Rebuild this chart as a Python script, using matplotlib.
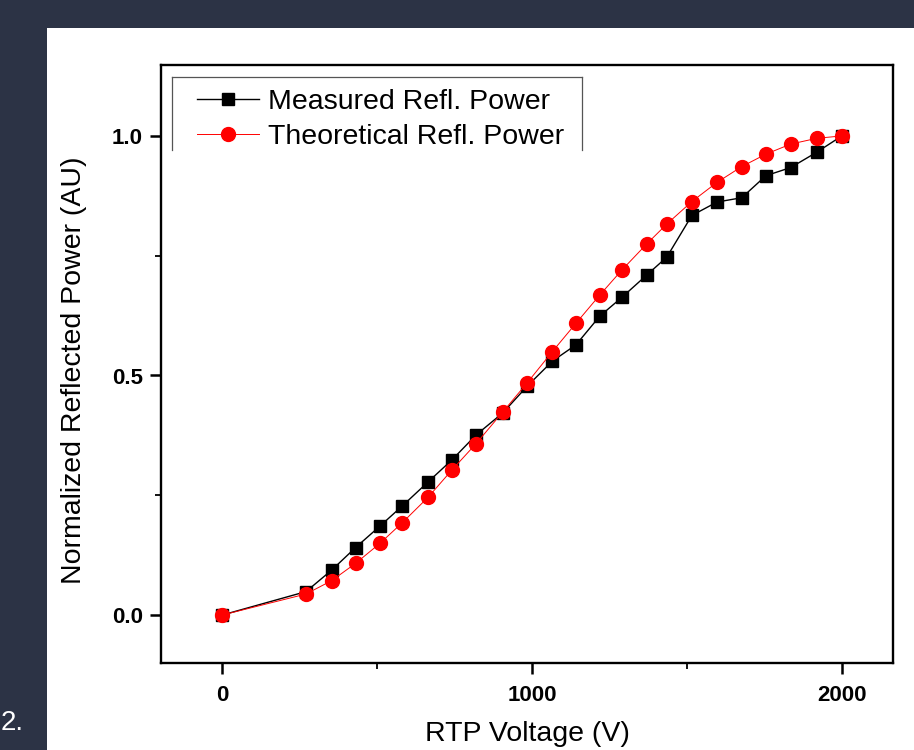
import matplotlib
matplotlib.use("Agg")
import matplotlib.pyplot as plt
from matplotlib.patches import Rectangle
from matplotlib.lines import Line2D
from matplotlib.ticker import MultipleLocator

plt.rcParams['font.family'] = ['Liberation Sans', 'DejaVu Sans']

# data
voltage = [0, 271, 354, 431, 510, 582, 665, 742, 820, 906, 985, 1066,
           1142, 1219, 1290, 1371, 1435, 1516, 1597, 1677, 1755, 1835, 1919, 2000]
measured = [0.0, 0.049, 0.094, 0.141, 0.186, 0.228, 0.278, 0.324, 0.376, 0.422,
            0.478, 0.530, 0.564, 0.624, 0.663, 0.710, 0.747, 0.834, 0.862,
            0.871, 0.917, 0.934, 0.966, 1.0]
theoretical = [0.0, 0.044, 0.072, 0.108, 0.150, 0.193, 0.246, 0.303, 0.358, 0.424,
               0.485, 0.550, 0.609, 0.668, 0.720, 0.775, 0.816, 0.863, 0.903,
               0.936, 0.962, 0.983, 0.995, 1.0]
x_ticks = [0, 1000, 2000]
y_ticks = [0.0, 0.5, 1.0]

fig = plt.figure(figsize=(9.14, 7.5), dpi=100)
fig.patch.set_facecolor('#2c3345')
# white slide panel behind the chart
fig.patches.append(Rectangle((47 / 914, 0), 1 - 47 / 914, 722 / 750,
                             transform=fig.transFigure, facecolor='white',
                             edgecolor='none', zorder=-5))
fig.text(1 / 914, 1 - 730 / 750, "2.", color='white', fontsize=20,
         ha='left', va='baseline')

ax = fig.add_axes([161 / 914, 1 - 663 / 750, 732 / 914, 598 / 750])
ax.set_zorder(2)
ax.set_facecolor('white')

ax.plot(voltage, measured, color='black', lw=1.0, marker='s', ms=8.5,
        mec='black', mfc='black', label='Measured Refl. Power', zorder=3)
ax.plot(voltage, theoretical, color='red', lw=0.7, marker='o', ms=10,
        mec='red', mfc='red', label='Theoretical Refl. Power', zorder=4)

ax.set_xlim(-197, 2165)
ax.set_ylim(-0.1, 1.148)
ax.set_xticks(x_ticks)
ax.set_yticks(y_ticks)
ax.set_yticklabels([f"{v:.1f}" for v in y_ticks])
ax.xaxis.set_minor_locator(MultipleLocator(500))
ax.yaxis.set_minor_locator(MultipleLocator(0.25))

for s in ax.spines.values():
    s.set_linewidth(1.7)
ax.tick_params(which='major', direction='out', length=8, width=1.8,
               labelsize=16)
ax.tick_params(which='minor', direction='out', length=4.5, width=1.3)
ax.tick_params(axis='x', which='major', pad=8)
ax.tick_params(axis='y', which='major', pad=5)
ax.tick_params(top=False, right=False, which='both')
for lab in ax.get_xticklabels() + ax.get_yticklabels():
    lab.set_fontweight('bold')

ax.set_xlabel('RTP Voltage (V)', fontsize=20.5)
ax.set_ylabel('Normalized Reflected Power (AU)', fontsize=20.5)
ax.xaxis.set_label_coords(0.5, -0.097)
ax.yaxis.set_label_coords(-0.101, 0.49)

leg = ax.legend(loc='upper left', bbox_to_anchor=(0.041, 0.97),
                frameon=False, fontsize=20.5, handlelength=2.2,
                handletextpad=0.3, labelspacing=0.33, borderpad=0.2,
                borderaxespad=0)
# legend frame: left, top, right edges only
fx0, fx1, fy0, fy1 = 0.015, 0.575, 0.858, 0.98
for xs, ys in [((fx0, fx0), (fy0, fy1)), ((fx0, fx1), (fy1, fy1)),
               ((fx1, fx1), (fy0, fy1))]:
    ax.add_line(Line2D(xs, ys, transform=ax.transAxes, color='#555555',
                       lw=0.9, zorder=5))

fig.savefig('out.png', dpi=100, facecolor=fig.get_facecolor())
